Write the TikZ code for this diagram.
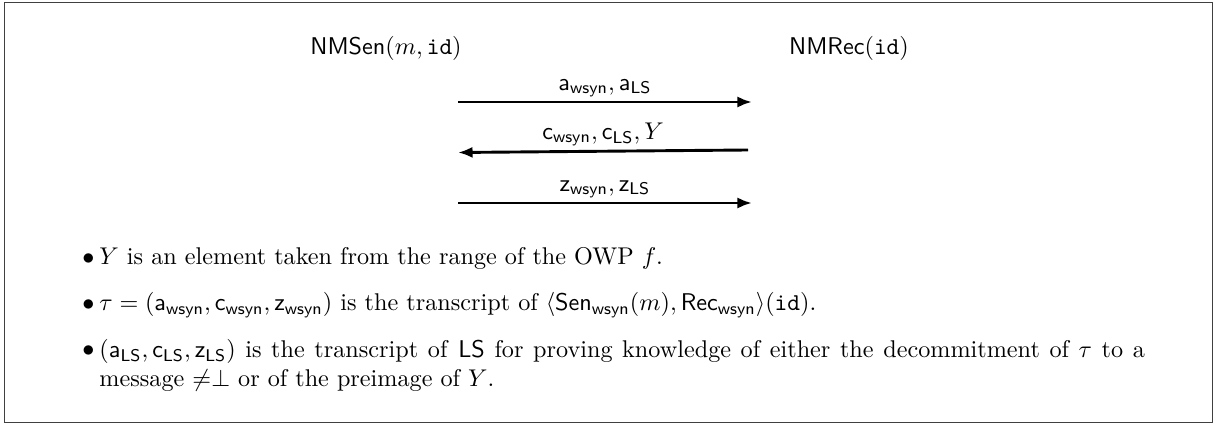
\documentclass[tikz,border=0pt]{standalone}
\usepackage{amsmath}
\usetikzlibrary{arrows.meta}
\newcommand{\sfm}[1]{\textsf{#1}}
\tikzset{
  frame/.style={draw=black!75, line width=0.6pt},
  party/.style={inner sep=0pt},
  msg/.style={line width=1.2pt, -{Latex[length=6pt,width=4.6pt]}},
  msglabel/.style={above, inner sep=1.4pt},
  bulletmark/.style={inner sep=0pt, anchor=base},
  itemtext/.style={inner sep=0pt, anchor=base west, align=left},
  itemtextwide/.style={inner sep=0pt, anchor=north west, text width=432pt, align=justify}
}
\begin{document}
\begin{tikzpicture}[x=0.41322pt, y=-0.41322pt, font=\fontsize{10}{12}\selectfont]
\useasboundingbox (0,0) rectangle (1214,425);
\draw[frame] (4.5,2.5) rectangle (1212.5,422.5);

\node[party] (sen) at (386,48) {$\sfm{NMSen}(m,\texttt{id})$};
\node[party] (rec) at (849,48) {$\sfm{NMRec}(\texttt{id})$};

\coordinate (m1s) at (458,102);
\coordinate (m1e) at (752,102);
\coordinate (m2s) at (748,150);
\coordinate (m2e) at (458,152.5);
\coordinate (m3s) at (458,203);
\coordinate (m3e) at (752,203);

\draw[msg] (m1s) -- node[msglabel] (l1) {$\sfm{a}_{\sfm{wsyn}}, \sfm{a}_{\sfm{LS}}$} (m1e);
\draw[msg] (m2s) -- node[msglabel] (l2) {$\sfm{c}_{\sfm{wsyn}}, \sfm{c}_{\sfm{LS}}, Y$} (m2e);
\draw[msg] (m3s) -- node[msglabel] (l3) {$\sfm{z}_{\sfm{wsyn}}, \sfm{z}_{\sfm{LS}}$} (m3e);

\node[bulletmark] (b1) at (88.5,265) {$\bullet$};
\node[itemtext] (t1) at (99,265) {$Y$ is an element taken from the range of the OWP $f$.};
\node[bulletmark] (b2) at (88.5,311) {$\bullet$};
\node[itemtext] (t2) at (99,311) {$\tau = (\sfm{a}_{\sfm{wsyn}}, \sfm{c}_{\sfm{wsyn}}, \sfm{z}_{\sfm{wsyn}})$ is the transcript of $\langle \sfm{Sen}_{\sfm{wsyn}}(m), \sfm{Rec}_{\sfm{wsyn}}\rangle(\texttt{id})$.};
\node[bulletmark] (b3) at (88.5,357) {$\bullet$};
\node[itemtextwide] (t3) at (99,336.7) {\strut$(\sfm{a}_{\sfm{LS}}, \sfm{c}_{\sfm{LS}}, \sfm{z}_{\sfm{LS}})$ is the transcript of \textsf{LS} for proving knowledge of either the decommitment of $\tau$ to a\linebreak message $\neq\perp$ or of the preimage of $Y$.};
\end{tikzpicture}
\end{document}
